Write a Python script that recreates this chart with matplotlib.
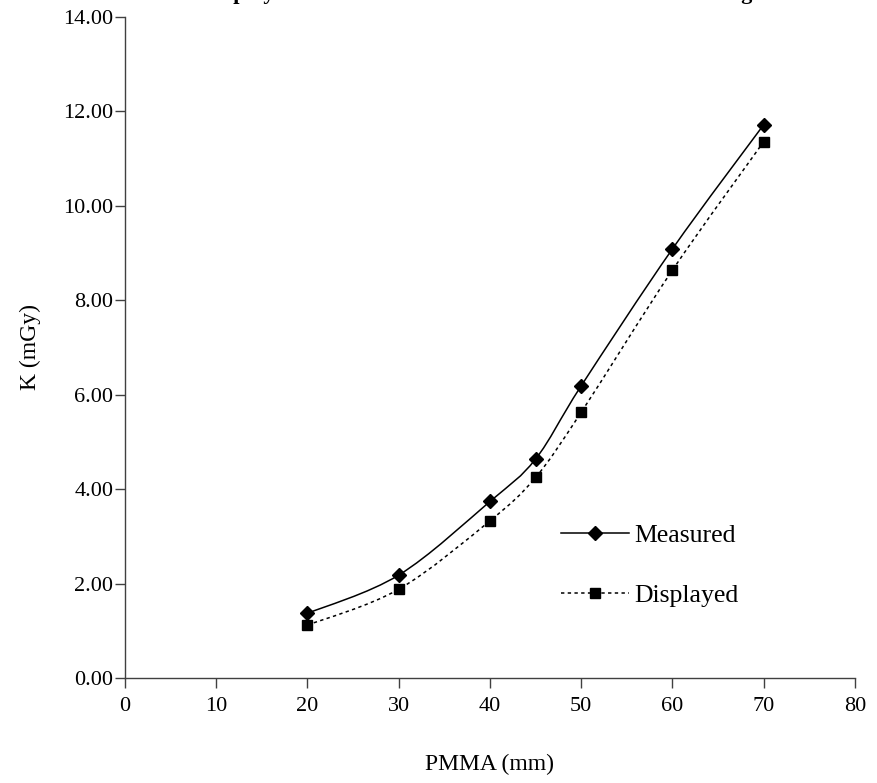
import matplotlib
matplotlib.use("Agg")
import matplotlib.pyplot as plt
from matplotlib.path import Path
from matplotlib.patches import PathPatch
from matplotlib.lines import Line2D
import numpy as np

# PMMA phantom thickness and air kerma readings
pmma_mm = [20, 30, 40, 45, 50, 60, 70]
measured_mgy = [1.37, 2.18, 3.74, 4.64, 6.19, 9.09, 11.72]
displayed_mgy = [1.12, 1.88, 3.33, 4.25, 5.63, 8.64, 11.36]

x_ticks = [0, 10, 20, 30, 40, 50, 60, 70, 80]
y_ticks = [0, 2, 4, 6, 8, 10, 12, 14]

title_text = "Displayed and Measured Entrance Surface Dose Readings"
x_label = "PMMA (mm)"
y_label = "K (mGy)"
series_names = ["Measured", "Displayed"]

plt.rcParams["font.family"] = ["Liberation Serif", "DejaVu Serif"]


def smooth_path(xs, ys):
    """Cubic Bezier path through the points (spreadsheet-style smoothing)."""
    pts = np.column_stack([xs, ys]).astype(float)
    n = len(pts)
    verts = [pts[0]]
    codes = [Path.MOVETO]
    for i in range(n - 1):
        p0 = pts[i - 1] if i > 0 else pts[i]
        p1 = pts[i]
        p2 = pts[i + 1]
        p3 = pts[i + 2] if i + 2 < n else pts[i + 1]
        c1 = p1 + (p2 - p0) / 6.0
        c2 = p2 - (p3 - p1) / 6.0
        verts += [c1, c2, p2]
        codes += [Path.CURVE4] * 3
    return Path(verts, codes)


W, H = 878, 783
fig = plt.figure(figsize=(W / 100, H / 100), dpi=100)
ax = fig.add_axes([125 / W, 1 - 678 / H, 730 / W, 661 / H])
ax.set_xlim(0, 80)
ax.set_ylim(0, 14)

axis_color = "#404040"
for side in ("top", "right"):
    ax.spines[side].set_visible(False)
for side in ("left", "bottom"):
    ax.spines[side].set_color(axis_color)
    ax.spines[side].set_linewidth(1.0)

ax.set_xticks(x_ticks)
ax.set_xticklabels([str(v) for v in x_ticks])
ax.set_yticks(y_ticks)
ax.set_yticklabels([f"{v:.2f}" for v in y_ticks])
ax.tick_params(axis="both", direction="out", length=7, width=1.0,
               color=axis_color, labelsize=16, labelcolor="black")
ax.tick_params(axis="x", pad=7)
ax.tick_params(axis="y", pad=1.5)

ax.set_xlabel(x_label, fontsize=17, labelpad=27)
ax.set_ylabel(y_label, fontsize=17, labelpad=16)

# smoothed connecting curves
ax.add_patch(PathPatch(smooth_path(pmma_mm, measured_mgy), facecolor="none",
                       edgecolor="black", linewidth=1.1, clip_on=False))
ax.add_patch(PathPatch(smooth_path(pmma_mm, displayed_mgy), facecolor="none",
                       edgecolor="black", linewidth=1.1, linestyle=(0, (2.2, 2.2)),
                       clip_on=False))

# data markers
ax.plot(pmma_mm, measured_mgy, linestyle="none", marker="D", markersize=7,
        color="black", clip_on=False, zorder=3)
ax.plot(pmma_mm, displayed_mgy, linestyle="none", marker="s", markersize=7,
        color="black", clip_on=False, zorder=3)

handles = [
    Line2D([], [], color="black", linewidth=1.1, marker="D", markersize=7),
    Line2D([], [], color="black", linewidth=1.1, linestyle=(0, (2.2, 2.2)),
           marker="s", markersize=7),
]
ax.legend(handles, series_names, loc="upper left",
          bbox_to_anchor=(561 / W, 1 - 524 / H), bbox_transform=fig.transFigure,
          frameon=False, fontsize=18.5, handlelength=2.65, handletextpad=0.2,
          borderpad=0, borderaxespad=0, labelspacing=1.45)

# chart title (sits at the top edge of the canvas)
fig.text(202 / W, 1 + 1 / H, title_text, ha="left", va="baseline",
         fontsize=16.2, fontweight="bold")

fig.savefig("out.png", dpi=100)
